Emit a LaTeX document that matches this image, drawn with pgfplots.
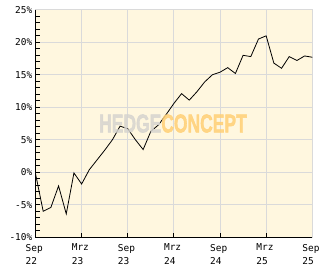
\documentclass[border=0pt]{standalone}
\usepackage{fontspec}
\setmonofont{DejaVu Sans Mono}
\newfontfamily\wmfont[BoldFeatures={FakeBold=2}]{Liberation Sans}
\usepackage{pgfplots}
\pgfplotsset{compat=1.18}
\definecolor{bgcream}{RGB}{255,247,223}
\definecolor{gridgray}{RGB}{218,218,218}
\definecolor{wmgray}{RGB}{214,212,207}
\definecolor{wmorange}{RGB}{255,208,118}
\begin{document}
\begin{tikzpicture}
\path[use as bounding box] (-35.5bp,-31.7bp) rectangle (296.5bp,237.3bp);
\begin{axis}[
  at={(0,0)}, anchor=south west,
  width=276.8bp, height=227.5bp, scale only axis,
  xmin=0, xmax=36, ymin=-10, ymax=25,
  axis background/.style={fill=bgcream},
  axis line style={draw=gridgray, line width=0.8bp},
  grid=major,
  major grid style={draw=gridgray, line width=0.9bp},
  xtick={0,6,12,18,24,30,36},
  xticklabels={Sep\\22,Mrz\\23,Sep\\23,Mrz\\24,Sep\\24,Mrz\\25,Sep\\25},
  ytick={-10,-5,0,5,10,15,20,25},
  yticklabels={-10\%,-5\%,0\%,5\%,10\%,15\%,20\%,25\%},
  minor y tick num=4,
  tick align=inside,
  xtick pos=bottom, ytick pos=left,
  major tick length=4.5bp, minor tick length=4.5bp,
  tick style={black, line width=0.9bp},
  xticklabel style={font=\fontsize{9.5}{13.5}\selectfont\ttfamily, align=left, anchor=north west, inner sep=0pt, xshift=-10bp, yshift=-6.5bp},
  yticklabel style={font=\fontsize{9.5}{13.5}\selectfont\ttfamily, anchor=east, inner sep=0pt, xshift=-3bp},
  clip=false,
]
\addplot[black, line width=0.8bp, mark=none] coordinates {
(0,-0.2) (1,-6.0) (2,-5.4) (3,-2.1) (4,-6.4) (5,-0.1) (6,-1.8) (7,0.4)
(8,1.9) (9,3.4) (10,5.0) (11,7.1) (12,6.7) (13,5.0) (14,3.5) (15,6.3)
(16,7.3) (17,8.9) (18,10.6) (19,12.1) (20,11.1) (21,12.4) (22,13.9) (23,15.0)
(24,15.4) (25,16.1) (26,15.2) (27,18.0) (28,17.8) (29,20.5) (30,21.0) (31,16.8)
(32,16.0) (33,17.8) (34,17.2) (35,17.9) (36,17.7)
};
\node[anchor=center, inner sep=0pt, xscale=0.68, text opacity=0.85, font=\wmfont\bfseries\fontsize{25.8}{26}\selectfont] at (axis cs:17.88,7.5) {\textcolor{wmgray}{HEDGE}\textcolor{wmorange}{CONCEPT}};
\draw[black, line width=1.5bp] (rel axis cs:0,1) -- (rel axis cs:0,0) -- (rel axis cs:1,0);
\end{axis}
\end{tikzpicture}
\end{document}
